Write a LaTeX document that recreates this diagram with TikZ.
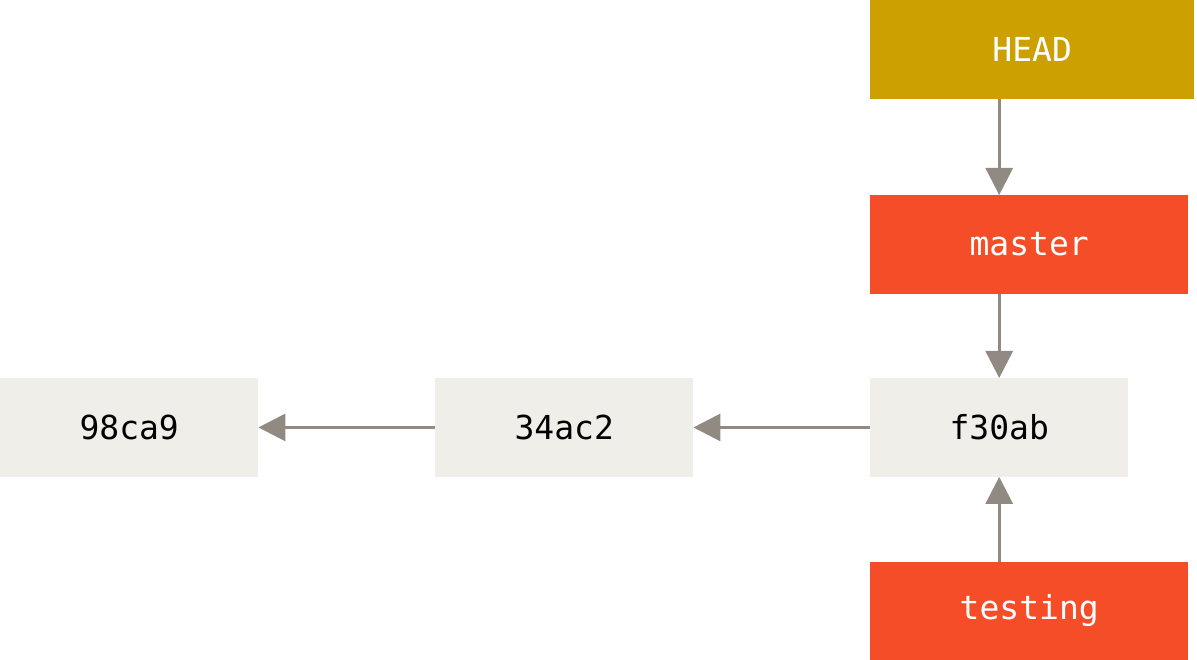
\documentclass[tikz,border=0pt]{standalone}
\usepackage{fontspec}
\setmonofont{DejaVu Sans Mono}
\usetikzlibrary{arrows.meta, positioning, calc}

\definecolor{headcol}{HTML}{CCA000}
\definecolor{branchcol}{HTML}{F44D27}
\definecolor{commitcol}{HTML}{EFEEE8}
\definecolor{arrowcol}{HTML}{918A83}

\tikzset{
  box/.style={anchor=north west, inner sep=0pt, minimum height=98.5pt,
    font=\ttfamily\fontsize{33}{38}\selectfont},
  commit/.style={box, fill=commitcol, text=black, minimum width=258pt},
  branch/.style={box, fill=branchcol, text=white, minimum width=318pt},
  headbox/.style={box, fill=headcol, text=white, minimum width=324pt},
  ptr/.style={draw=arrowcol, line width=3pt,
    -{Triangle[length=27pt,width=27pt]}}
}

\begin{document}
\begin{tikzpicture}[x=1pt,y=-1pt]
\useasboundingbox (0,0) rectangle (1197,660);
% commits
\foreach \name / \x / \txt in {c1/0/98ca9, c2/435/34ac2, c3/870/f30ab} {
  \node[commit] (\name) at (\x,378) {\txt};
}
% refs
\node[headbox] (head) at (870,0) {HEAD};
\node[branch] (master) at (870,195) {master};
\node[branch] (testing) at (870,561.5) {testing};
% pointers
\draw[ptr] (c3) -- (c2);
\draw[ptr] (c2) -- (c1);
\draw[ptr] (head.south -| c3.north) -- (master.north -| c3.north);
\draw[ptr] (master.south -| c3.north) -- (c3.north);
\draw[ptr] (testing.north -| c3.south) -- (c3.south);
\end{tikzpicture}
\end{document}
